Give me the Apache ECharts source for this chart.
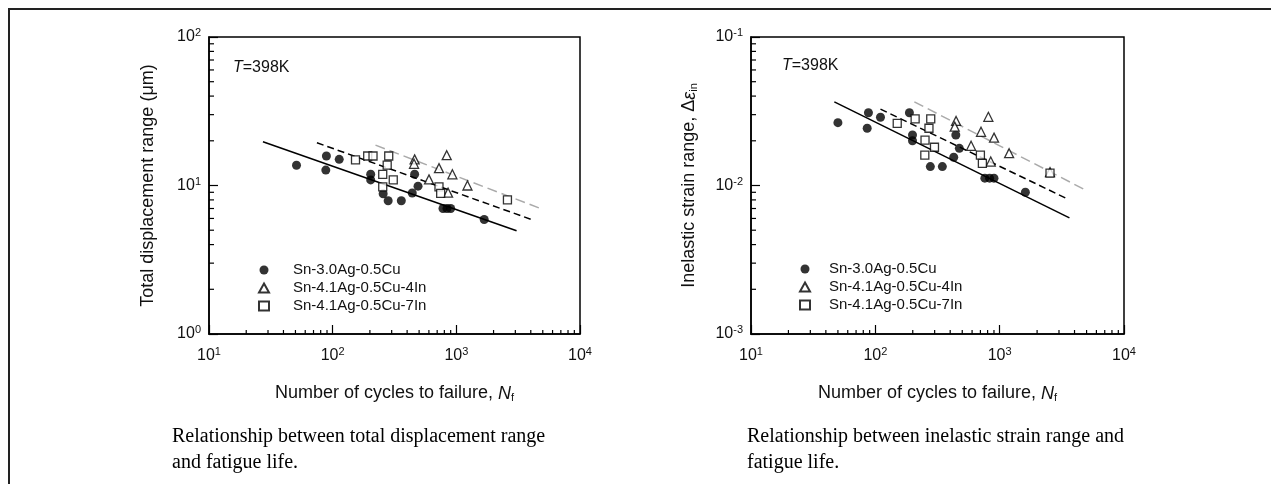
<!DOCTYPE html>
<html>
<head>
<meta charset="utf-8">
<script src="https://cdn.jsdelivr.net/npm/echarts@6/dist/echarts.min.js"></script>
<style>
  html, body { margin: 0; padding: 0; background: #fff; }
  #chart { width: 1271px; height: 484px; }
</style>
</head>
<body>
<div id="chart"></div>
<script>
// series names
var alloyNames = ['Sn-3.0Ag-0.5Cu', 'Sn-4.1Ag-0.5Cu-4In', 'Sn-4.1Ag-0.5Cu-7In'];

// left panel: [cycles to failure, total displacement range (um)]
var dispSAC = [[51, 13.7], [89, 15.8], [88, 12.7], [113, 15.0], [203, 11.9], [203, 10.9], [256, 8.8], [281, 7.9],
  [359, 7.9], [460, 11.9], [490, 9.9], [440, 8.9], [780, 7.0], [840, 7.0], [900, 7.0], [1680, 5.9]];
var dispIn4 = [[460, 15.0], [455, 14.0], [836, 16.0], [724, 13.1], [929, 11.9], [601, 11.0], [1230, 10.0], [857, 8.95]];
var dispIn7 = [[153, 14.9], [192, 15.8], [212, 15.8], [284, 15.8], [276, 13.7], [254, 11.9], [309, 10.9], [254, 9.8],
  [724, 9.8], [747, 8.86], [2590, 8.0]];
var dispFitSAC = [[27.3, 19.7], [3070, 4.96]];
var dispFitIn4 = [[222, 18.7], [4900, 6.95]];
var dispFitIn7 = [[74.6, 19.4], [4010, 5.92]];

// right panel: [cycles to failure, inelastic strain range]
var strainSAC = [[50, 0.0265], [88, 0.0309], [86, 0.0243], [110, 0.0288], [188, 0.0309], [199, 0.0219], [199, 0.0200],
  [277, 0.0134], [346, 0.0134], [427, 0.0155], [444, 0.0219], [474, 0.0178], [760, 0.0112], [830, 0.0112],
  [900, 0.0112], [1610, 0.0090]];
var strainIn4 = [[446, 0.0272], [435, 0.0249], [811, 0.0290], [708, 0.0230], [901, 0.0210], [589, 0.0185],
  [1191, 0.0165], [848, 0.0145], [2540, 0.0123]];
var strainIn7 = [[150, 0.0262], [209, 0.0281], [279, 0.0281], [270, 0.0243], [251, 0.0202], [299, 0.0181],
  [250, 0.0160], [700, 0.0160], [726, 0.0141], [2540, 0.0121]];
var strainFitSAC = [[46.8, 0.0366], [3640, 0.00606]];
var strainFitIn4 = [[206, 0.0366], [5010, 0.00923]];
var strainFitIn7 = [[110, 0.0327], [3570, 0.00807]];

// minor ticks (2..9 within each decade)
var xMinorTicks = [20, 30, 40, 50, 60, 70, 80, 90, 200, 300, 400, 500, 600, 700, 800, 900, 2000, 3000, 4000, 5000, 6000, 7000, 8000, 9000];
var dispMinorTicks = [2, 3, 4, 5, 6, 7, 8, 9, 20, 30, 40, 50, 60, 70, 80, 90];
var strainMinorTicks = [0.002, 0.003, 0.004, 0.005, 0.006, 0.007, 0.008, 0.009, 0.02, 0.03, 0.04, 0.05, 0.06, 0.07, 0.08, 0.09];

var chart = echarts.init(document.getElementById('chart'));
var font = 'Liberation Sans, Arial, sans-serif';
var ink = '#111';

function powLabel (value) {
  var e = Math.round(Math.log10(value));
  return '{b|10}{s|' + (e < 0 ? '-' + (-e) : e) + '}';
}
var powRich = {
  b: { fontSize: 16, fontFamily: font, color: ink },
  s: { fontSize: 11, fontFamily: font, color: ink, padding: [0, 0, 8, 0] }
};

function xAxisOf (grid) {
  return {
    type: 'log', logBase: 10, gridIndex: grid, min: 10, max: 10000,
    name: 'Number of cycles to failure, {i|N}{sub|f}',
    nameLocation: 'middle', nameGap: 50,
    nameTextStyle: {
      fontSize: 18, fontFamily: font, color: ink,
      rich: {
        i: { fontSize: 18, fontStyle: 'italic', fontFamily: font, color: ink },
        sub: { fontSize: 11, fontFamily: font, color: ink, padding: [8, 0, 0, 0] }
      }
    },
    axisLine: { lineStyle: { color: '#000', width: 1.5 } },
    axisTick: { inside: true, length: 9, lineStyle: { color: '#000', width: 1.2 } },
    axisLabel: { margin: 12, formatter: powLabel, rich: powRich, showMinLabel: true, showMaxLabel: true },
    splitLine: { show: false }
  };
}

function yAxisOf (grid, lo, hi, name, rich) {
  return {
    type: 'log', logBase: 10, gridIndex: grid, min: lo, max: hi,
    name: name, nameLocation: 'middle', nameGap: 52,
    nameTextStyle: { fontSize: 18, fontFamily: font, color: ink, rich: rich },
    axisLine: { lineStyle: { color: '#000', width: 1.5 } },
    axisTick: { inside: true, length: 9, lineStyle: { color: '#000', width: 1.2 } },
    axisLabel: { margin: 8, formatter: powLabel, rich: powRich, showMinLabel: true, showMaxLabel: true },
    splitLine: { show: false }
  };
}

function scatter (name, grid, data, symbol, size, filled) {
  return {
    name: name, type: 'scatter', xAxisIndex: grid, yAxisIndex: grid,
    data: data, symbol: symbol, symbolSize: size,
    itemStyle: filled ? { color: '#000' } : { color: '#fff', borderColor: '#000', borderWidth: 1.3 },
    z: 3
  };
}

function fitLine (grid, data, color, type) {
  return {
    type: 'line', xAxisIndex: grid, yAxisIndex: grid, data: data,
    symbol: 'none', silent: true,
    lineStyle: { color: color, width: 1.5, type: type },
    z: 2
  };
}

function minorTicks (grid, data, vertical) {
  return {
    type: 'custom', xAxisIndex: grid, yAxisIndex: grid, silent: true, z: 5,
    data: data,
    renderItem: function (params, api) {
      var p = api.coord([api.value(0), api.value(1)]);
      var shape = vertical
        ? { x1: p[0], y1: p[1], x2: p[0], y2: p[1] - 4 }
        : { x1: p[0], y1: p[1], x2: p[0] + 5, y2: p[1] };
      return { type: 'line', shape: shape, style: { stroke: '#000', lineWidth: 1.2 } };
    }
  };
}

function legendAt (left, top, pad) {
  return {
    left: left, top: top, orient: 'vertical', selectedMode: false,
    itemWidth: 10, itemHeight: 9, itemGap: 2,
    textStyle: { fontSize: 15, fontFamily: font, color: ink, lineHeight: 16, padding: [0, 0, 0, pad] },
    data: [
      { name: alloyNames[0], icon: 'circle' },
      { name: alloyNames[1], icon: 'triangle' },
      { name: alloyNames[2], icon: 'rect' }
    ]
  };
}

function tempLabel (x, y) {
  return {
    type: 'text', left: x, top: y,
    style: {
      text: '{i|T}=398K', fontSize: 16, fontFamily: font, fill: ink,
      rich: { i: { fontSize: 16, fontStyle: 'italic', fontFamily: font, color: ink } }
    }
  };
}

function caption (x, text) {
  return {
    type: 'text', left: x, top: 424,
    style: { text: text, fontSize: 20, fontFamily: 'Liberation Serif, Times New Roman, serif', fill: '#000', lineHeight: 26 }
  };
}

chart.setOption({
  backgroundColor: '#fff',
  animation: false,
  grid: [
    { left: 209, top: 37, width: 371, height: 297, show: true, borderColor: '#000', borderWidth: 1.5 },
    { left: 751, top: 37, width: 373, height: 297, show: true, borderColor: '#000', borderWidth: 1.5 }
  ],
  xAxis: [xAxisOf(0), xAxisOf(1)],
  yAxis: [
    yAxisOf(0, 1, 100, 'Total displacement range (μm)', {}),
    yAxisOf(1, 0.001, 0.1, 'Inelastic strain range, Δ{i|ε}{sub|in}', {
      i: { fontSize: 18, fontStyle: 'italic', fontFamily: font, color: ink },
      sub: { fontSize: 11, fontFamily: font, color: ink, padding: [8, 0, 0, 0] }
    })
  ],
  legend: [legendAt(253, 257, 19), legendAt(794, 256, 14)],
  series: [
    fitLine(0, dispFitSAC, '#000', 'solid'),
    fitLine(0, dispFitIn7, '#000', [7, 4]),
    fitLine(0, dispFitIn4, '#aaa', [10, 5]),
    scatter(alloyNames[0], 0, dispSAC, 'circle', 9, true),
    scatter(alloyNames[1], 0, dispIn4, 'triangle', 9, false),
    scatter(alloyNames[2], 0, dispIn7, 'rect', 8, false),
    minorTicks(0, xMinorTicks.map(function (v) { return [v, 1]; }), true),
    minorTicks(0, dispMinorTicks.map(function (v) { return [10, v]; }), false),

    fitLine(1, strainFitSAC, '#000', 'solid'),
    fitLine(1, strainFitIn7, '#000', [7, 4]),
    fitLine(1, strainFitIn4, '#aaa', [10, 5]),
    scatter(alloyNames[0], 1, strainSAC, 'circle', 9, true),
    scatter(alloyNames[1], 1, strainIn4, 'triangle', 9, false),
    scatter(alloyNames[2], 1, strainIn7, 'rect', 8, false),
    minorTicks(1, xMinorTicks.map(function (v) { return [v, 0.001]; }), true),
    minorTicks(1, strainMinorTicks.map(function (v) { return [10, v]; }), false)
  ],
  graphic: [
    { type: 'rect', shape: { x: 9, y: 9, width: 1400, height: 600 }, style: { fill: 'none', stroke: '#222', lineWidth: 2 }, silent: true },
    tempLabel(233, 60),
    tempLabel(782, 58),
    caption(172, 'Relationship between total displacement range\nand fatigue life.'),
    caption(747, 'Relationship between inelastic strain range and\nfatigue life.')
  ]
});
</script>
</body>
</html>
